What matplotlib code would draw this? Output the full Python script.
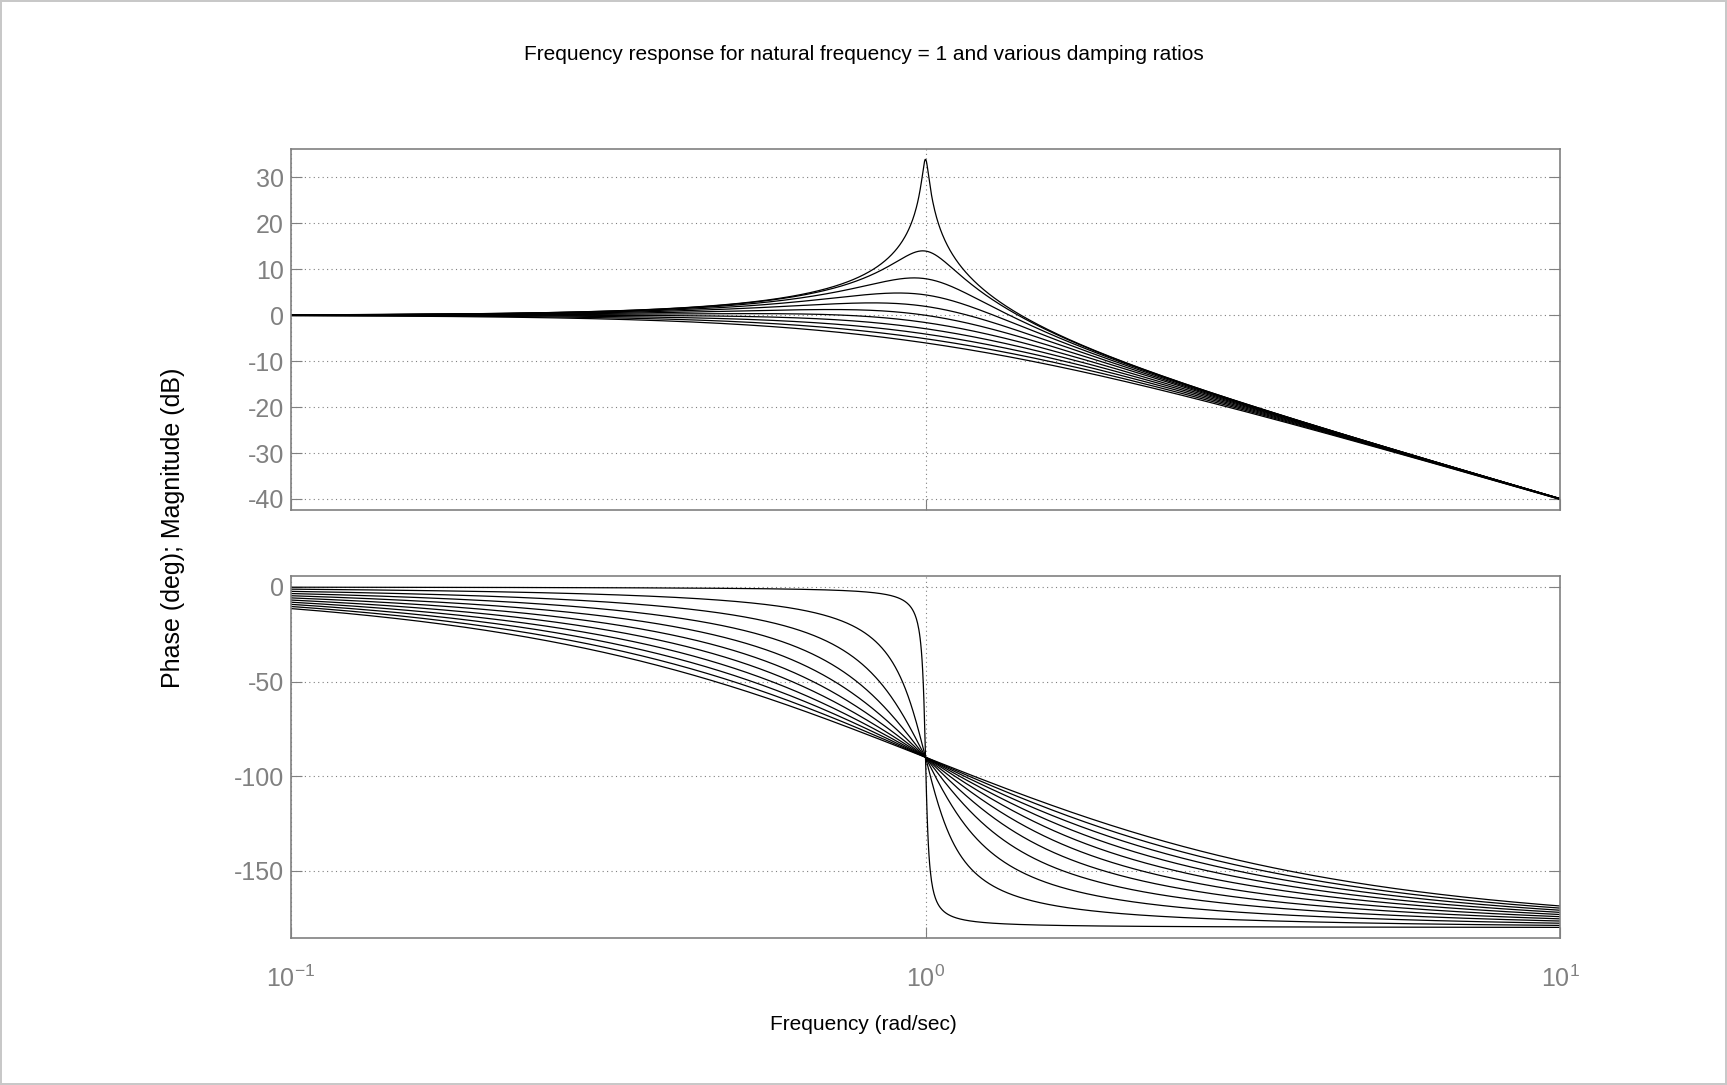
"""
Bode plot: second-order system, natural frequency = 1, several damping ratios.
"""
import numpy as np
import matplotlib
matplotlib.use("Agg")
import matplotlib.pyplot as plt
from matplotlib.ticker import FixedLocator, FuncFormatter, NullLocator

plt.rcParams["font.family"] = ["Liberation Sans", "DejaVu Sans"]
plt.rcParams["mathtext.fontset"] = "custom"
plt.rcParams["mathtext.rm"] = "Liberation Sans"
plt.rcParams["mathtext.it"] = "Liberation Sans"
plt.rcParams["axes.unicode_minus"] = False

# data
natural_freq = 1.0
damping_ratios = [0.01, 0.1, 0.2, 0.3, 0.4, 0.5, 0.6, 0.7, 0.8, 0.9, 1.0]
freq_range = (0.1, 10.0)
mag_ticks = [30, 20, 10, 0, -10, -20, -30, -40]
mag_lim = (-42.4, 36.2)
phase_ticks = [0, -50, -100, -150]
phase_lim = (-185.5, 5.8)
freq_ticks = [0.1, 1.0, 10.0]
freq_tick_labels = ["$10^{-1}$", "$10^{0}$", "$10^{1}$"]

GRAY = "#808080"
W, H = 1727, 1085
fig = plt.figure(figsize=(W / 100, H / 100), dpi=100)
fig.patch.set_edgecolor("#c8c8c8")
fig.patch.set_linewidth(1.5)

# axes placement in pixels (left, top, right, bottom)
def px_axes(l, t, r, b):
    return fig.add_axes([l / W, 1 - b / H, (r - l) / W, (b - t) / H])

ax_mag = px_axes(291, 149, 1560, 510)
ax_ph = px_axes(291, 576, 1560, 938)

w = np.logspace(np.log10(freq_range[0]), np.log10(freq_range[1]), 2000)
for z in damping_ratios:
    G = natural_freq ** 2 / ((1j * w) ** 2 + 2 * z * natural_freq * 1j * w + natural_freq ** 2)
    ax_mag.semilogx(w, 20 * np.log10(np.abs(G)), color="black", lw=0.9)
    ax_ph.semilogx(w, np.degrees(np.angle(G)), color="black", lw=0.9)

for ax, ticks, lim in [(ax_mag, mag_ticks, mag_lim), (ax_ph, phase_ticks, phase_lim)]:
    ax.set_xlim(*freq_range)
    ax.set_ylim(*lim)
    ax.yaxis.set_major_locator(FixedLocator(ticks))
    ax.xaxis.set_major_locator(FixedLocator(freq_ticks))
    ax.xaxis.set_minor_locator(NullLocator())
    ax.grid(True, which="major", color=GRAY, ls=(0, (1, 3)), lw=0.8)
    for s in ax.spines.values():
        s.set_color(GRAY)
        s.set_linewidth(1.2)
    ax.tick_params(axis="both", direction="in", length=8, color=GRAY,
                   labelcolor=GRAY, labelsize=18, right=True, top=False)
    ax.tick_params(axis="y", pad=5)

ax_mag.set_xticklabels([])
ax_ph.xaxis.set_major_formatter(FuncFormatter(
    lambda v, p: freq_tick_labels[freq_ticks.index(min(freq_ticks, key=lambda f: abs(f - v)))]))
ax_ph.tick_params(axis="x", pad=20, labelsize=18)

fig.text(0.5, 1 - 54 / H, "Frequency response for natural frequency = 1 and various damping ratios",
         ha="center", va="center", fontsize=15, color="black")
fig.text(0.5, 1 - 1025 / H, "Frequency (rad/sec)", ha="center", va="center",
         fontsize=15, color="black")
fig.text(173 / W, 1 - 528 / H, "Phase (deg); Magnitude (dB)", rotation=90,
         ha="center", va="center", fontsize=18, color="black")

fig.savefig("out.png", dpi=100)
